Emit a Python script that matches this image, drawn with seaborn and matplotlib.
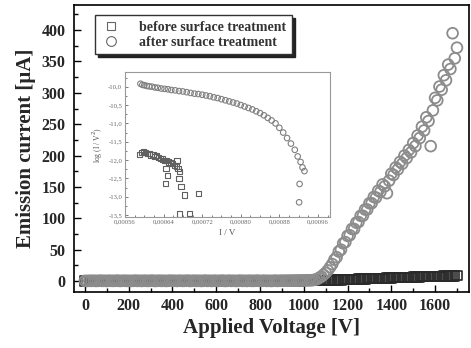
import matplotlib
matplotlib.use("Agg")
import matplotlib.pyplot as plt
from matplotlib.ticker import MultipleLocator, FixedLocator, FuncFormatter
from matplotlib.lines import Line2D
import seaborn as sns
import pandas as pd

# ---------------- data ----------------
voltage = [
    0, 10, 20, 30, 40, 50, 60, 70, 80, 90, 100, 110, 120, 130, 140, 150, 160, 170, 180, 190,
    200, 210, 220, 230, 240, 250, 260, 270, 280, 290, 300, 310, 320, 330, 340, 350, 360, 370, 380, 390,
    400, 410, 420, 430, 440, 450, 460, 470, 480, 490, 500, 510, 520, 530, 540, 550, 560, 570, 580, 590,
    600, 610, 620, 630, 640, 650, 660, 670, 680, 690, 700, 710, 720, 730, 740, 750, 760, 770, 780, 790,
    800, 810, 820, 830, 840, 850, 860, 870, 880, 890, 900, 910, 920, 930, 940, 950, 960, 970, 980, 990,
    1000, 1010, 1020, 1030, 1040, 1050, 1060, 1070, 1080, 1090, 1100, 1110, 1120, 1130, 1140, 1150,
    1160, 1170, 1180, 1190, 1200, 1210, 1220, 1230, 1240, 1250, 1260, 1270, 1280, 1290, 1300, 1310,
    1320, 1330, 1340, 1350, 1360, 1370, 1380, 1390, 1400, 1410, 1420, 1430, 1440, 1450, 1460, 1470,
    1480, 1490, 1500, 1510, 1520, 1530, 1540, 1550, 1560, 1570, 1580, 1590, 1600, 1610, 1620, 1630,
    1640, 1650, 1660, 1670, 1680, 1690, 1700,
]

current_before = [
    0.2, 0.5, 0.1, 0.4, 0.3, 0.6, 0.2, 0.4, 0.1, 0.5, 0.3, 0.2, 0.6, 0.4, 0.1, 0.3, 0.5, 0.2, 0.4, 0.3,
    0.1, 0.5, 0.3, 0.2, 0.6, 0.4, 0.1, 0.3, 0.5, 0.2, 0.4, 0.3, 0.1, 0.5, 0.3, 0.2, 0.6, 0.4, 0.1, 0.3,
    0.5, 0.2, 0.4, 0.3, 0.1, 0.5, 0.3, 0.2, 0.6, 0.4, 0.1, 0.3, 0.5, 0.2, 0.4, 0.3, 0.1, 0.5, 0.3, 0.2,
    0.6, 0.4, 0.1, 0.3, 0.5, 0.2, 0.4, 0.3, 0.1, 0.5, 0.3, 0.2, 0.6, 0.4, 0.1, 0.3, 0.5, 0.2, 0.4, 0.3,
    0.1, 0.5, 0.3, 0.2, 0.6, 0.4, 0.1, 0.3, 0.5, 0.2, 0.4, 0.3, 0.1, 0.5, 0.3, 0.2, 0.6, 0.4, 0.1, 0.3,
    0.4, 0.3, 0.5, 0.4, 0.6, 0.5, 0.7, 0.7, 0.9, 0.8, 1.0, 1.1, 1.3, 1.2, 1.5, 1.6,
    1.8, 1.8, 2.0, 2.1, 2.3, 2.4, 2.6, 2.6, 2.9, 3.0, 3.1, 3.3, 3.4, 3.5, 3.7, 3.8,
    3.9, 4.1, 4.2, 4.3, 4.5, 4.5, 4.7, 4.9, 5.0, 5.1, 5.2, 5.4, 5.5, 5.6, 5.8, 5.8,
    6.0, 6.1, 6.2, 6.4, 6.5, 6.6, 6.7, 6.9, 7.0, 7.0, 7.2, 7.3, 7.4, 7.5, 7.6, 7.7,
    7.8, 7.9, 8.0, 8.1, 8.2, 8.2, 8.4,
]

current_after = [
    0.3, 0.1, 0.4, 0.2, 0.5, 0.1, 0.3, 0.6, 0.2, 0.4, 0.1, 0.5, 0.3, 0.2, 0.4, 0.6, 0.1, 0.3, 0.5, 0.2,
    0.4, 0.1, 0.3, 0.6, 0.2, 0.4, 0.1, 0.5, 0.3, 0.2, 0.4, 0.6, 0.1, 0.3, 0.5, 0.2, 0.4, 0.1, 0.3, 0.6,
    0.2, 0.4, 0.1, 0.5, 0.3, 0.2, 0.4, 0.6, 0.1, 0.3, 0.5, 0.2, 0.4, 0.1, 0.3, 0.6, 0.2, 0.4, 0.1, 0.5,
    0.3, 0.2, 0.4, 0.6, 0.1, 0.3, 0.5, 0.2, 0.4, 0.1, 0.3, 0.6, 0.2, 0.4, 0.1, 0.5, 0.3, 0.2, 0.4, 0.6,
    0.1, 0.3, 0.5, 0.2, 0.4, 0.1, 0.3, 0.6, 0.2, 0.4, 0.5, 0.4, 0.6, 0.5, 0.7, 0.6, 0.8, 0.7, 0.9, 0.8,
    1.0, 0.9, 1.2, 1.1, 1.4, 2.0, 3.0, 5.0, 7.0, 10.0, 13.0, 17.0, 22.0, 27.0, 34.0, 38.0,
    47.0, 50.0, 60.0, 62.0, 72.0, 73.0, 83.0, 83.0, 93.0, 94.0, 104.0, 104.0, 114.0, 114.0, 124.0, 124.0,
    134.0, 133.0, 144.0, 142.0, 154.0, 151.0, 140.0, 160.0, 171.0, 169.0, 181.0, 178.0, 190.0, 187.0, 200.0, 196.0,
    209.0, 205.0, 220.0, 215.0, 232.0, 228.0, 246.0, 240.0, 261.0, 255.0, 215.0, 272.0, 292.0, 288.0, 310.0, 305.0,
    328.0, 320.0, 345.0, 338.0, 395.0, 355.0, 372.0,
]

inv_v_after = [
    0.000592, 0.000596, 0.000600, 0.000605, 0.000610, 0.000616, 0.000622, 0.000628, 0.000635, 0.000642,
    0.000649, 0.000656, 0.000664, 0.000672, 0.000680, 0.000688, 0.000696, 0.000704, 0.000712, 0.000720,
    0.000728, 0.000736, 0.000744, 0.000752, 0.000760, 0.000768, 0.000776, 0.000784, 0.000792, 0.000800,
    0.000808, 0.000816, 0.000824, 0.000832, 0.000840, 0.000848, 0.000856, 0.000864, 0.000872, 0.000880,
    0.000888, 0.000896, 0.000904, 0.000912, 0.000918, 0.000924, 0.000928, 0.000932, 0.000922, 0.000921,
]
log_after = [
    -9.92, -9.95, -9.96, -9.98, -9.99, -10.00, -10.02, -10.03, -10.05, -10.06,
    -10.07, -10.09, -10.10, -10.12, -10.13, -10.15, -10.17, -10.19, -10.20, -10.22,
    -10.24, -10.26, -10.29, -10.31, -10.34, -10.37, -10.40, -10.43, -10.46, -10.50,
    -10.54, -10.58, -10.62, -10.67, -10.72, -10.78, -10.85, -10.92, -11.00, -11.12,
    -11.25, -11.40, -11.55, -11.72, -11.90, -12.05, -12.20, -12.30, -12.65, -13.15,
]

inv_v_before = [
    0.000590, 0.000594, 0.000598, 0.000602, 0.000606, 0.000610, 0.000614, 0.000618, 0.000622, 0.000626,
    0.000630, 0.000634, 0.000638, 0.000642, 0.000646, 0.000650, 0.000654, 0.000658, 0.000662, 0.000666,
    0.000670, 0.000673, 0.000645, 0.000648, 0.000644, 0.000672, 0.000676, 0.000683, 0.000713, 0.000673,
    0.000694, 0.000668,
]
log_before = [
    -11.85, -11.80, -11.78, -11.80, -11.83, -11.82, -11.86, -11.84, -11.90, -11.88,
    -11.93, -11.95, -11.97, -12.00, -12.02, -12.05, -12.08, -12.10, -12.15, -12.18,
    -12.22, -12.30, -12.23, -12.41, -12.64, -12.50, -12.73, -12.95, -12.91, -13.47,
    -13.45, -12.02,
]

legend_labels = ["before surface treatment", "after surface treatment"]
xticks_main = [0, 200, 400, 600, 800, 1000, 1200, 1400, 1600]
yticks_main = [0, 50, 100, 150, 200, 250, 300, 350, 400]
xticks_inset = [0.00056, 0.00064, 0.00072, 0.00080, 0.00088, 0.00096]
yticks_inset = [-10.0, -10.5, -11.0, -11.5, -12.0, -12.5, -13.0, -13.5]

# ---------------- figure ----------------
sns.set_style("ticks")
plt.rcParams["font.family"] = ["Liberation Serif", "DejaVu Serif"]

fig = plt.figure(figsize=(4.71, 3.48), dpi=100)
ax = fig.add_axes([74 / 471, 1 - 292 / 348, 395 / 471, 287 / 348])

df_b = pd.DataFrame({"V": voltage, "I": current_before})
df_a = pd.DataFrame({"V": voltage, "I": current_after})

sns.scatterplot(data=df_b, x="V", y="I", ax=ax, marker="s", s=45,
                facecolor="none", edgecolor="#2a2a2a", linewidth=1.2, zorder=2)
sns.scatterplot(data=df_a, x="V", y="I", ax=ax, marker="o", s=60,
                facecolor="none", edgecolor="#8c8c8c", linewidth=1.3, zorder=3)

ax.set_xlim(-50, 1755)
ax.set_ylim(-17.5, 440)
ax.xaxis.set_major_locator(FixedLocator(xticks_main))
ax.yaxis.set_major_locator(FixedLocator(yticks_main))
ax.xaxis.set_minor_locator(MultipleLocator(100))
ax.yaxis.set_minor_locator(MultipleLocator(25))
ax.tick_params(which="both", direction="in", top=False, right=False, width=1.0, color="black")
ax.tick_params(which="major", length=5)
ax.tick_params(which="minor", length=3)
ax.tick_params(axis="y", pad=6)
ax.tick_params(axis="x", pad=4)
for lab in ax.get_xticklabels() + ax.get_yticklabels():
    lab.set_fontweight("bold")
    lab.set_fontsize(11.5)
for sp in ax.spines.values():
    sp.set_linewidth(1.2)
    sp.set_color("black")

ax.set_xlabel("Applied Voltage [V]", fontsize=15, fontweight="bold", labelpad=3)
ax.set_ylabel("Emission current [\u03bcA]", fontsize=15, fontweight="bold", labelpad=4)

handles = [
    Line2D([], [], marker="s", linestyle="none", markersize=6, markerfacecolor="white",
           markeredgecolor="#666666", markeredgewidth=0.8),
    Line2D([], [], marker="o", linestyle="none", markersize=7, markerfacecolor="white",
           markeredgecolor="#666666", markeredgewidth=0.8),
]
leg = ax.legend(handles, legend_labels, loc="upper left", bbox_to_anchor=(0.053, 0.965),
                borderaxespad=0, frameon=True, fancybox=False, shadow={"color": "#222222", "alpha": 1},
                prop={"family": "Liberation Serif", "weight": "bold", "size": 10},
                labelspacing=0.15, handletextpad=1.3, borderpad=0.4, handlelength=1.5)
leg.get_frame().set_edgecolor("#333333")
leg.get_frame().set_linewidth(1.0)
for t in leg.get_texts():
    t.set_color("#333333")

# ---------------- inset ----------------
axi = fig.add_axes([125 / 471, 1 - 217 / 348, 205 / 471, 145 / 348])
df_ia = pd.DataFrame({"x": inv_v_after, "y": log_after})
df_ib = pd.DataFrame({"x": inv_v_before, "y": log_before})
sns.scatterplot(data=df_ia, x="x", y="y", ax=axi, marker="o", s=16,
                facecolor="none", edgecolor="#808080", linewidth=0.8)
sns.scatterplot(data=df_ib, x="x", y="y", ax=axi, marker="s", s=14,
                facecolor="none", edgecolor="#606060", linewidth=0.8)
axi.set_xlim(0.00056, 0.000985)
axi.set_ylim(-13.55, -9.6)
axi.xaxis.set_major_locator(FixedLocator(xticks_inset))
axi.yaxis.set_major_locator(FixedLocator(yticks_inset))
axi.xaxis.set_minor_locator(MultipleLocator(0.00002))
axi.yaxis.set_minor_locator(MultipleLocator(0.25))
axi.xaxis.set_major_formatter(FuncFormatter(lambda v, p: f"{v:.5f}".replace(".", ",")))
axi.yaxis.set_major_formatter(FuncFormatter(lambda v, p: f"{v:.1f}".replace(".", ",")))
axi.tick_params(which="both", direction="in", top=False, right=False, colors="#666666",
                labelsize=4.8, width=0.6, pad=2)
axi.tick_params(which="major", length=2.5)
axi.tick_params(which="minor", length=1.5)
for sp in axi.spines.values():
    sp.set_linewidth(0.8)
    sp.set_color("#999999")
axi.set_xlabel("I / V", fontsize=6.5, color="#555555", labelpad=3)
axi.set_ylabel("log (I / V$^2$)", fontsize=5.5, color="#555555", labelpad=2)

fig.savefig("out.png", dpi=100)
